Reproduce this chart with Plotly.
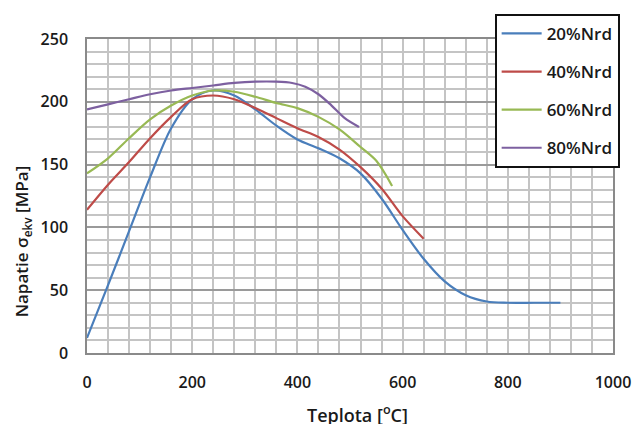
import plotly.graph_objects as go

# Equivalent stress vs. temperature for four load levels
temp_20 = [0, 40, 80, 120, 160, 200, 240, 280, 320, 360, 400, 440, 480, 520, 560, 600, 640, 680, 720, 760, 800, 850, 900]
sig_20 = [12, 54, 97, 140, 179, 202, 209, 205, 194, 181, 170, 163, 155, 143, 123, 98, 75, 57, 46, 41, 40, 40, 40]

temp_40 = [0, 40, 80, 120, 160, 200, 240, 280, 320, 360, 400, 440, 480, 520, 560, 600, 640]
sig_40 = [114, 134, 152, 171, 188, 202, 205, 202, 195, 187, 179, 172, 162, 148, 131, 109, 91]

temp_60 = [0, 40, 80, 120, 160, 200, 240, 280, 320, 360, 400, 440, 480, 520, 550, 580]
sig_60 = [143, 155, 171, 186, 197, 205, 209, 208, 204, 199, 195, 188, 178, 164, 153, 133]

temp_80 = [0, 40, 80, 120, 160, 200, 240, 280, 320, 360, 390, 415, 440, 465, 490, 517]
sig_80 = [194, 198, 202, 206, 209, 211, 213, 215, 216, 216, 215, 212, 206, 197, 187, 180]

series_names = ["20%Nrd", "40%Nrd", "60%Nrd", "80%Nrd"]
series_colors = ["#4a7ebb", "#be4b48", "#98b954", "#7d60a0"]
series_x = [temp_20, temp_40, temp_60, temp_80]
series_y = [sig_20, sig_40, sig_60, sig_80]

x_ticks = [0, 200, 400, 600, 800, 1000]
y_ticks = [0, 50, 100, 150, 200, 250]

FONT = "Open Sans"
TXT = "#1a1a1a"

fig = go.Figure()
for i, (name, col, xs, ys) in enumerate(zip(series_names, series_colors, series_x, series_y)):
    fig.add_trace(go.Scatter(
        x=xs, y=ys, name=name, mode="lines",
        line=dict(color=col, width=2.2, shape="spline", smoothing=0.9),
        legendgroup=f"g{i}",
    ))

grid_minor = "#c4c4c4"
grid_major = "#9a9a9a"

fig.update_xaxes(
    range=[0, 1000], tickvals=x_ticks, ticktext=[str(v) for v in x_ticks],
    showgrid=True, gridcolor=grid_minor, gridwidth=1.5,
    minor=dict(dtick=40, showgrid=True, gridcolor=grid_minor, gridwidth=1.5),
    showline=True, linecolor="#8a8a8a", linewidth=1.5, mirror=True,
    zeroline=False, ticks="", ticklabelstandoff=14,
    tickfont=dict(family=FONT, size=16, color=TXT, weight=600),
)
fig.update_yaxes(
    range=[0, 250], tickvals=y_ticks, ticktext=[str(v) for v in y_ticks],
    showgrid=True, gridcolor=grid_major, gridwidth=1.5,
    minor=dict(dtick=10, showgrid=True, gridcolor=grid_minor, gridwidth=1.5),
    showline=True, linecolor="#8a8a8a", linewidth=1.5, mirror=True,
    zeroline=False, ticks="", ticklabelstandoff=14,
    tickfont=dict(family=FONT, size=16, color=TXT, weight=600),
)

fig.add_annotation(
    text="Napatie σ<sub>ekv</sub> [MPa]", textangle=-90,
    xref="paper", yref="paper", x=-0.122, y=0.355,
    xanchor="center", yanchor="middle", showarrow=False,
    font=dict(family=FONT, size=17, color=TXT, weight=600),
)
fig.add_annotation(
    text="Teplota [<sup>o</sup>C]",
    xref="paper", yref="paper", x=0.515, y=-0.145,
    xanchor="center", yanchor="top", showarrow=False,
    font=dict(family=FONT, size=18, color=TXT, weight=600),
)

fig.update_layout(
    width=643, height=424,
    margin=dict(l=87, r=22, t=39, b=71),
    paper_bgcolor="white", plot_bgcolor="white",
    showlegend=True,
    legend=dict(
        x=0.775, y=1.08, xanchor="left", yanchor="top",
        bgcolor="white", bordercolor="#111111", borderwidth=2,
        font=dict(family=FONT, size=17, color=TXT, weight=600),
        tracegroupgap=13, itemwidth=40,
    ),
)

fig.write_html("out.html")
